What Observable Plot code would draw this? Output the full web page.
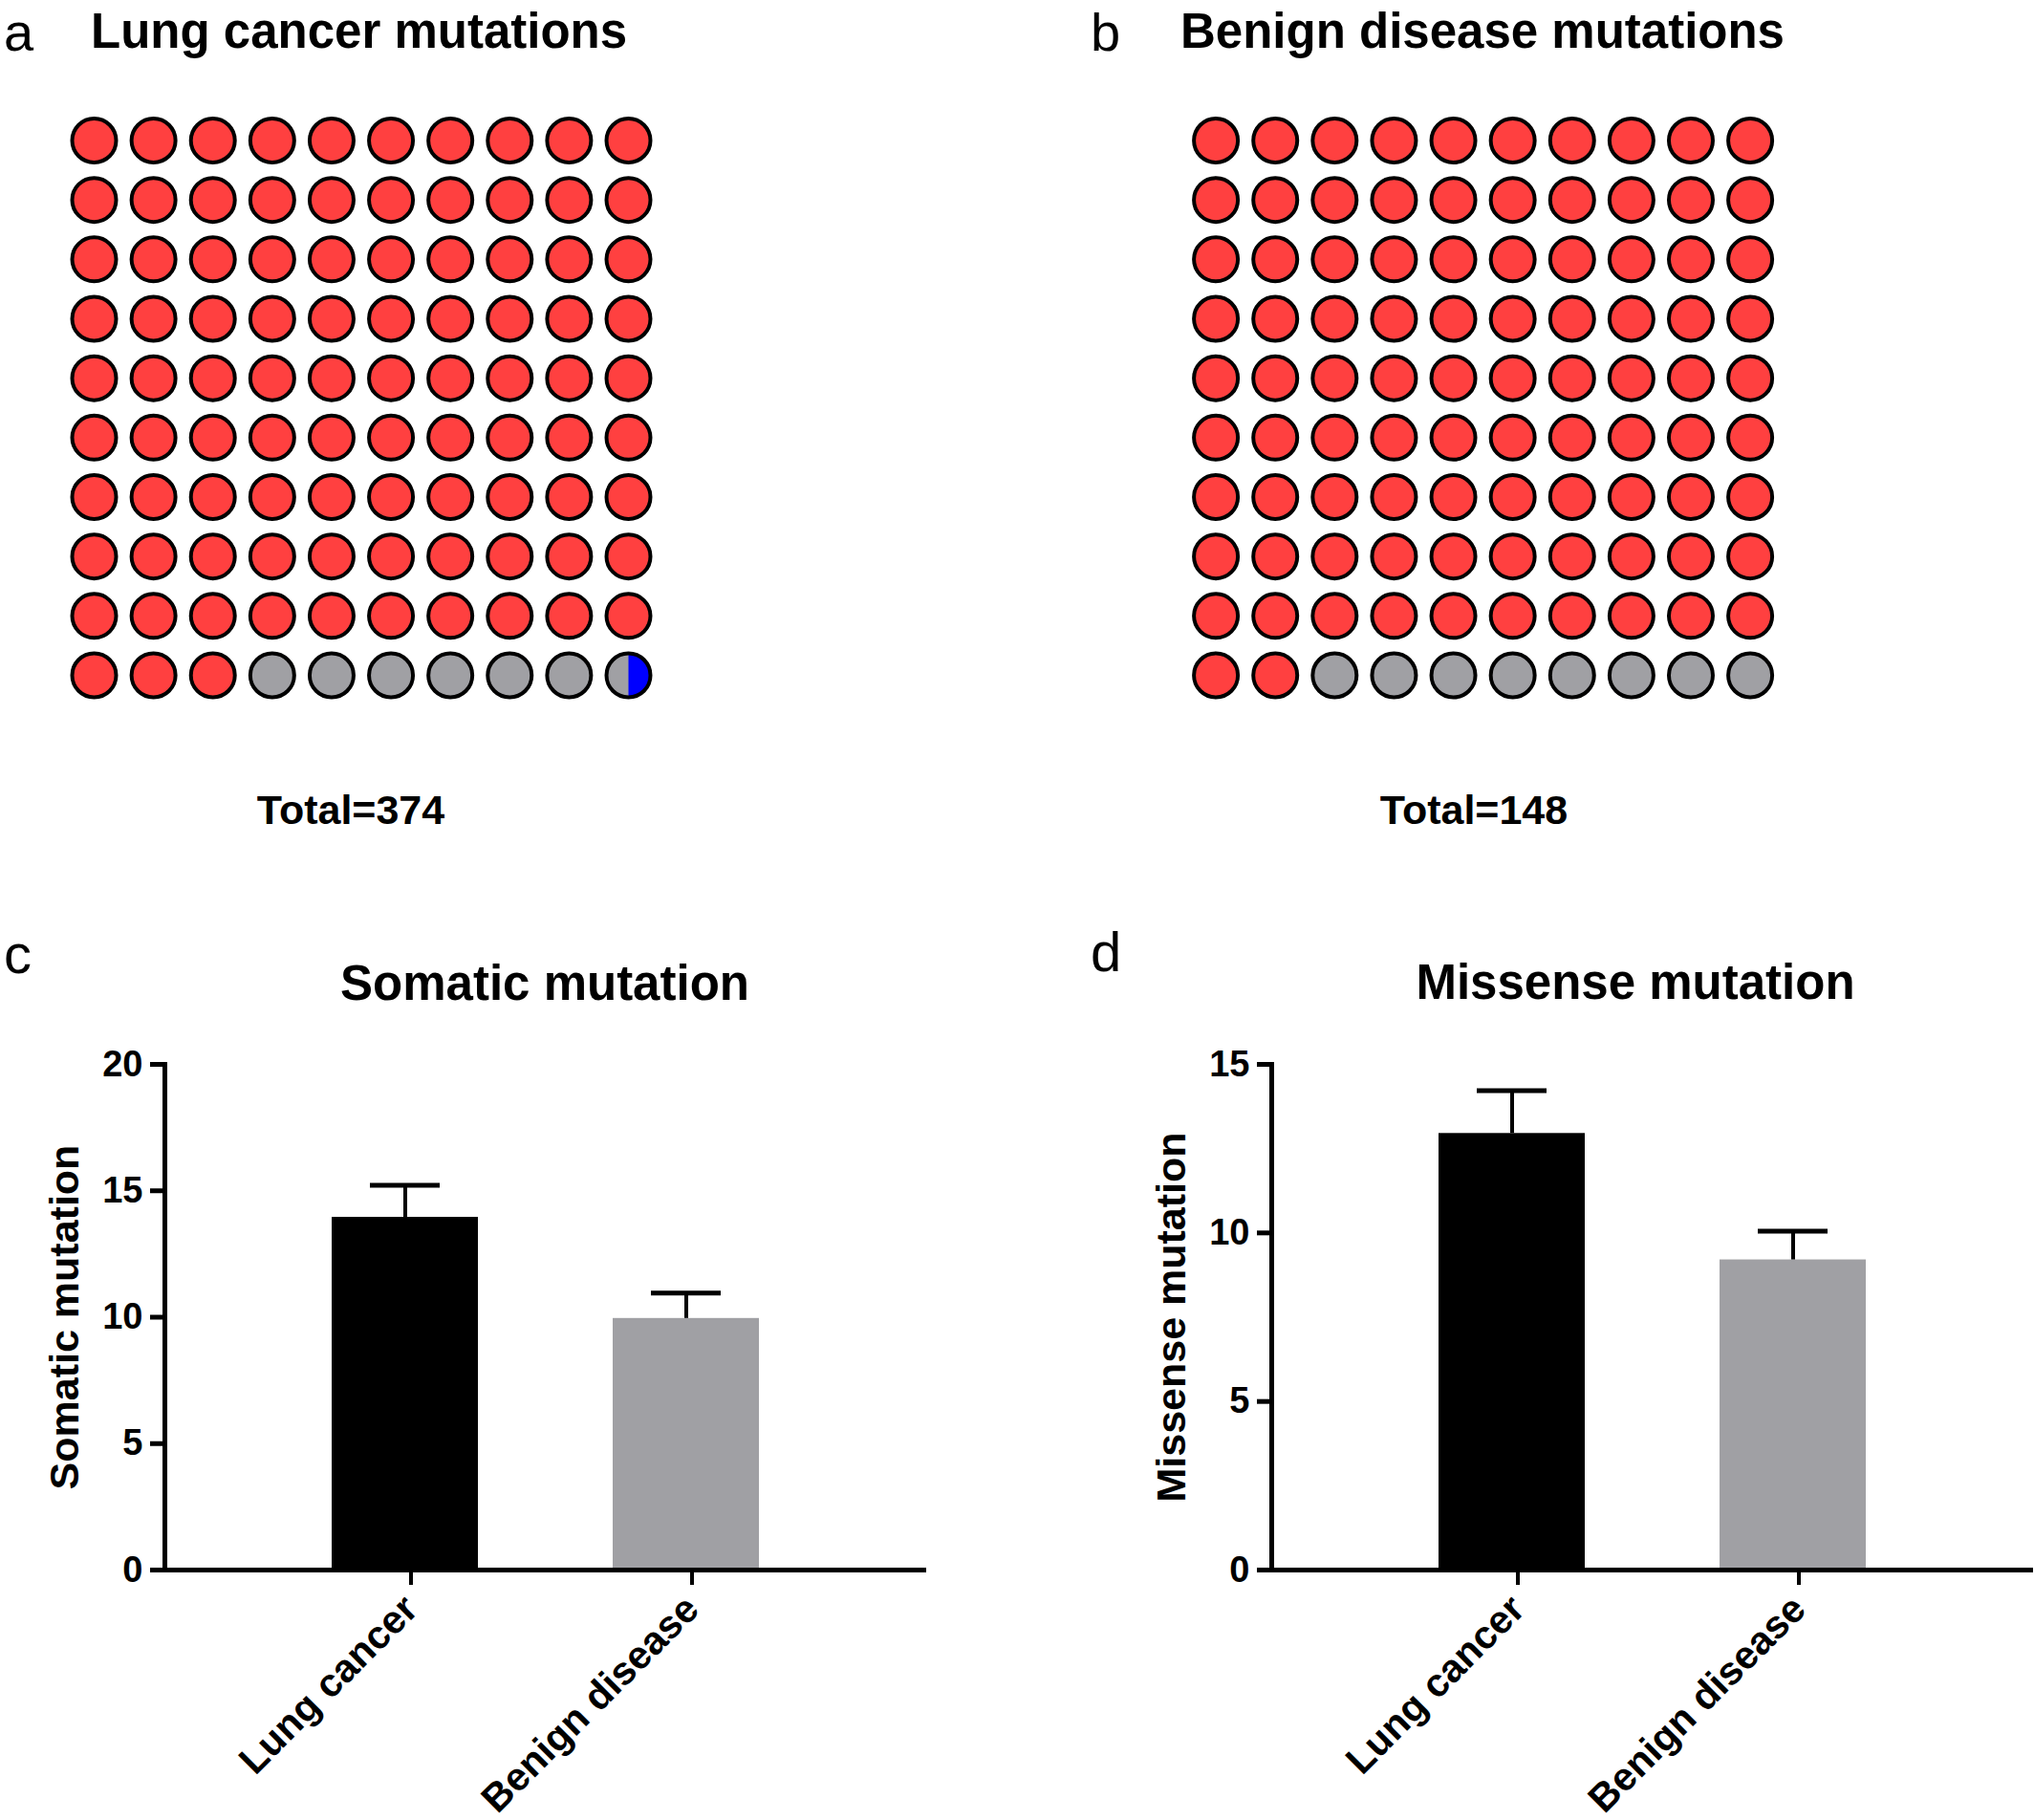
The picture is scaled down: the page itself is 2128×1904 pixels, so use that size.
<!DOCTYPE html>
<html><head><meta charset="utf-8">
<script src="https://cdn.jsdelivr.net/npm/d3@7"></script>
<script src="https://cdn.jsdelivr.net/npm/@observablehq/plot@0.6"></script>
<style>
body{margin:0;background:#fff;}
#fig{position:relative;width:2128px;height:1904px;font-family:"Liberation Sans",Arial,Helvetica,sans-serif;color:#000;background:#fff;overflow:hidden;}
.t{position:absolute;white-space:nowrap;line-height:1;}
#fig svg{position:absolute;}
</style></head><body><div id="fig"></div>
<script>
// ---------- data ----------
const panelLetters = ["a", "b", "c", "d"];
const waffleTitles = ["Lung cancer mutations", "Benign disease mutations"];
const waffleTotals = [374, 148];
const mutationTypes = ["Type 1", "Type 2", "Type 3"];
const typeColors = ["#ff4040", "#a0a0a4", "#0000ff"];
const lungShares = [93, 6.5, 0.5];     // percent of 100 cells
const benignShares = [92, 8, 0];
const gridCols = 10, gridRows = 10;

const barGroups = ["Lung cancer", "Benign disease"];
const barColors = ["#000000", "#a0a0a4"];
const barTitles = ["Somatic mutation", "Missense mutation"];
const somaticMeans = [13.95, 9.95];
const somaticErrors = [1.27, 1.0];
const somaticTicks = [0, 5, 10, 15, 20];
const missenseMeans = [12.95, 9.2];
const missenseErrors = [1.27, 0.85];
const missenseTicks = [0, 5, 10, 15];

const FONT = '"Liberation Sans", Arial, Helvetica, sans-serif';
const fig = document.getElementById("fig");

function addText(str, {left, center, baseline, size, weight = "bold"}) {
  const d = document.createElement("div");
  d.className = "t";
  d.textContent = str;
  d.style.fontSize = size + "px";
  d.style.fontWeight = weight;
  d.style.top = (baseline - 0.8465 * size) + "px";
  if (center != null) { d.style.left = center + "px"; d.style.transform = "translateX(-50%)"; }
  else d.style.left = left + "px";
  fig.appendChild(d);
}
function place(svg, left, top) {
  svg.style.left = left + "px";
  svg.style.top = top + "px";
  fig.appendChild(svg);
}

// custom symbol: circular segment on the right side covering `fraction` of the width
function rightSegment(fraction) {
  return {
    draw(ctx, size) {
      const r = Math.sqrt(size / Math.PI);
      const x0 = r * (1 - 2 * fraction);
      const th = Math.acos(x0 / r);
      ctx.moveTo(x0, -r * Math.sin(th));
      ctx.arc(0, 0, r, -th, th);
      ctx.closePath();
    }
  };
}

function buildCells(shares) {
  const cells = [], partials = [];
  const starts = [];
  let acc = 0;
  for (const s of shares) { starts.push(acc); acc += s; }
  for (let i = 0; i < gridCols * gridRows; i++) {
    const col = i % gridCols, row = Math.floor(i / gridCols);
    let base = null;
    shares.forEach((s, k) => {
      const ov = Math.max(0, Math.min(i + 1, starts[k] + s) - Math.max(i, starts[k]));
      if (ov > 0) {
        if (base === null) base = k;
        else partials.push({col, row, type: mutationTypes[k], fraction: ov});
      }
    });
    cells.push({col, row, type: mutationTypes[base]});
  }
  return {cells, partials};
}

function waffle(shares, width, mLeft) {
  const {cells, partials} = buildCells(shares);
  const R = 23;
  return Plot.plot({
    width, height: 660,
    marginLeft: mLeft, marginRight: width - mLeft - 559,
    marginTop: 46.5, marginBottom: 54,
    style: {background: "transparent"},
    x: {domain: [0, gridCols - 1], axis: null},
    y: {domain: [0, gridRows - 1], reverse: true, axis: null},
    color: {domain: mutationTypes, range: typeColors},
    marks: [
      Plot.dot(cells, {x: "col", y: "row", r: R, fill: "type"}),
      ...partials.map(p => Plot.dot([p], {x: "col", y: "row", r: R, fill: "type", symbol: rightSegment(p.fraction)})),
      Plot.dot(cells, {x: "col", y: "row", r: R, fill: "none", stroke: "#000", strokeWidth: 4})
    ]
  });
}

function barPanel(means, errors, ticks, label, width, mLeft) {
  const data = barGroups.map((g, i) => ({group: g, mean: means[i], upper: means[i] + errors[i]}));
  return Plot.plot({
    width, height: 824,
    marginLeft: mLeft, marginRight: width - mLeft - 797,
    marginTop: 33, marginBottom: 262,
    style: {fontFamily: FONT, fontWeight: "bold", background: "transparent", overflow: "visible"},
    x: {domain: barGroups, paddingInner: 0.48, paddingOuter: 0.595, align: 0.5},
    y: {domain: [0, ticks[ticks.length - 1]]},
    color: {domain: barGroups, range: barColors},
    marks: [
      Plot.barY(data, {x: "group", y: "mean", fill: "group"}),
      Plot.ruleX(data, {x: "group", y1: "mean", y2: "upper", stroke: "#000", strokeWidth: 4}),
      Plot.tickY(data, {x: "group", y: "upper", stroke: "#000", strokeWidth: 5, inset: 40}),
      Plot.ruleY([0], {stroke: "#000", strokeWidth: 5}),
      Plot.frame({anchor: "left", stroke: "#000", strokeWidth: 5}),
      Plot.axisY({ticks, tickSize: 15, tickPadding: 8, strokeWidth: 5, fontSize: 38, fontWeight: "bold", label: null}),
      Plot.axisY({ticks: [], tickSize: 0, fontSize: 43, fontWeight: "bold", label, labelAnchor: "center", labelOffset: 121, labelArrow: "none"}),
      Plot.axisX({tickSize: 16, tickPadding: 18, strokeWidth: 4, tickRotate: -45, fontSize: 41, fontWeight: "bold", label: null, dx: 6})
    ]
  });
}

// ---------- layout ----------
place(waffle(lungShares, 760, 98), 0, 100);
place(waffle(benignShares, 800, 171.6), 1100, 100);
place(barPanel(somaticMeans, somaticErrors, somaticTicks, barTitles[0], 1000, 172), 0, 1080);
place(barPanel(missenseMeans, missenseErrors, missenseTicks, barTitles[1], 1028, 230), 1100, 1080);

addText(panelLetters[0], {left: 4, baseline: 53, size: 56, weight: "normal"});
addText(waffleTitles[0], {left: 95, baseline: 50, size: 51});
addText(panelLetters[1], {left: 1141, baseline: 53, size: 56, weight: "normal"});
addText(waffleTitles[1], {left: 1235, baseline: 50, size: 51});
addText("Total=" + waffleTotals[0], {center: 367, baseline: 862, size: 43});
addText("Total=" + waffleTotals[1], {center: 1542, baseline: 862, size: 43});

addText(panelLetters[2], {left: 4, baseline: 1018, size: 58, weight: "normal"});
addText(barTitles[0], {center: 570, baseline: 1046, size: 51});
addText(panelLetters[3], {left: 1141, baseline: 1016, size: 58, weight: "normal"});
addText(barTitles[1], {center: 1711, baseline: 1045, size: 51});
</script></body></html>
